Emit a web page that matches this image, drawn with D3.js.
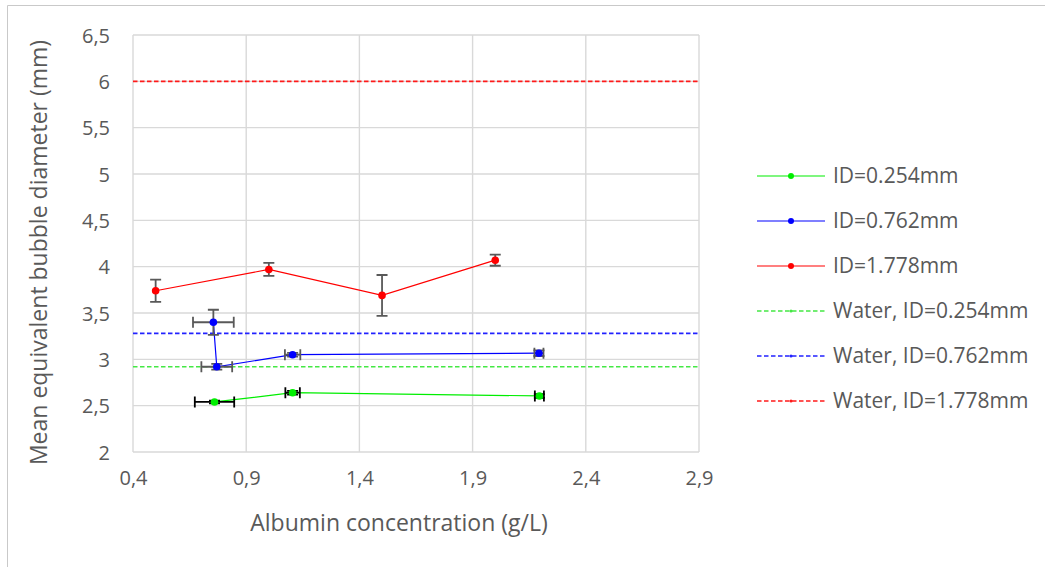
<!DOCTYPE html>
<html>
<head>
<meta charset="utf-8">
<script src="https://cdn.jsdelivr.net/npm/d3@7"></script>
<style>
  body { margin: 0; background: #fff; }
  #bubble-chart text { font-family: "Open Sans", sans-serif; fill: #595959; }
</style>
</head>
<body>
<div id="bubble-chart"></div>
<script>
// Mean bubble diameter vs albumin concentration

// x positions (g/L), y values (mm) and error half-widths per series
var greenX = [0.76, 1.105, 2.195];
var greenY = [2.54, 2.64, 2.605];
var greenXErr = [0.087, 0.032, 0.02];
var greenYErr = [0.015, 0.02, 0.02];

var blueX = [0.755, 0.77, 1.105, 2.193];
var blueY = [3.40, 2.92, 3.05, 3.066];
var blueXErr = [0.09, 0.068, 0.034, 0.02];
var blueYErr = [0.135, 0.03, 0.02, 0.03];

var redX = [0.5, 1.0, 1.5, 2.0];
var redY = [3.74, 3.97, 3.69, 4.07];
var redXErr = [0, 0, 0, 0];
var redYErr = [0.12, 0.07, 0.22, 0.06];

// water reference values (mm)
var waterLabels = ["Water, ID=0.254mm", "Water, ID=0.762mm", "Water, ID=1.778mm"];
var waterValues = [2.92, 3.28, 6.0];

var seriesLabels = ["ID=0.254mm", "ID=0.762mm", "ID=1.778mm"];
var xTicks = [0.4, 0.9, 1.4, 1.9, 2.4, 2.9];
var yTicks = [2, 2.5, 3, 3.5, 4, 4.5, 5, 5.5, 6, 6.5];

(function () {
  var draw_chart = function () {
    const colors = ["#00ee00", "#0000ff", "#ff0000"];
    const dashColors = ["#44e844", "#2222ff", "#ff1a1a"];
    const errColors = ["#000000", "#595959", "#595959"];

    function zip(xs, ys, xe, ye) {
      return xs.map((x, i) => ({ x: x, y: ys[i], xe: xe[i], ye: ye[i] }));
    }
    const series = [
      zip(greenX, greenY, greenXErr, greenYErr),
      zip(blueX, blueY, blueXErr, blueYErr),
      zip(redX, redY, redXErr, redYErr)
    ];

    const W = 1045, H = 567;
    const margin = { top: 35, left: 133 },
      width = 566,
      height = 417;

    const root = d3.select("#bubble-chart")
      .append("svg")
      .attr("width", W)
      .attr("height", H);

    // outer chart frame
    root.append("path")
      .attr("d", "M7.5," + (H + 5) + "V5.5H" + (W + 5))
      .attr("fill", "none")
      .attr("stroke", "#c9c9c9");

    const svg = root.append("g")
      .attr("transform", "translate(" + margin.left + "," + margin.top + ")");

    const xScale = d3.scaleLinear().domain([0.4, 2.9]).range([0, width]);
    const yScale = d3.scaleLinear().domain([2, 6.5]).range([height, 0]);
    const fmt = d => d3.format(".1~f")(d).replace(".", ",");

    // gridlines
    svg.append("g").selectAll("line.h")
      .data(yTicks)
      .enter().append("line")
      .attr("x1", 0).attr("x2", width)
      .attr("y1", d => yScale(d)).attr("y2", d => yScale(d))
      .attr("stroke", "#d9d9d9").attr("stroke-width", 1.4);
    svg.append("g").selectAll("line.v")
      .data(xTicks)
      .enter().append("line")
      .attr("x1", d => xScale(d)).attr("x2", d => xScale(d))
      .attr("y1", 0).attr("y2", height)
      .attr("stroke", "#d9d9d9").attr("stroke-width", 1.4);

    // axes (labels only)
    const yAxis = d3.axisLeft(yScale).tickValues(yTicks).tickFormat(fmt).tickSize(0).tickPadding(23);
    const xAxis = d3.axisBottom(xScale).tickValues(xTicks).tickFormat(fmt).tickSize(0).tickPadding(19);
    svg.append("g").call(yAxis).call(g => g.select(".domain").remove())
      .selectAll("text").attr("font-size", "20px").attr("dy", "0.35em");
    svg.append("g").attr("transform", "translate(0," + height + ")").call(xAxis)
      .call(g => g.select(".domain").remove())
      .selectAll("text").attr("font-size", "20px");

    svg.append("text")
      .attr("x", width / 2 - 17)
      .attr("y", height + 79)
      .attr("text-anchor", "middle")
      .attr("font-size", "23px")
      .text("Albumin concentration (g/L)");

    svg.append("text")
      .attr("transform", "rotate(-90)")
      .attr("x", -(height / 2) - 9)
      .attr("y", -86)
      .attr("text-anchor", "middle")
      .attr("font-size", "23px")
      .text("Mean equivalent bubble diameter (mm)");

    // water reference lines
    svg.append("g").selectAll("line.water")
      .data(waterValues)
      .enter().append("line")
      .attr("x1", 0).attr("x2", width)
      .attr("y1", d => yScale(d)).attr("y2", d => yScale(d))
      .attr("stroke", (d, i) => dashColors[i])
      .attr("stroke-width", 1.6)
      .attr("stroke-dasharray", "4.5,2.5");

    const line = d3.line().x(d => xScale(d.x)).y(d => yScale(d.y));

    series.forEach(function (data, i) {
      svg.append("path")
        .datum(data)
        .attr("d", line)
        .attr("fill", "none")
        .attr("stroke", colors[i])
        .attr("stroke-width", 1.2);

      const eb = svg.append("g")
        .attr("stroke", errColors[i])
        .attr("stroke-width", 1.8)
        .attr("fill", "none");
      const cap = 5.5;
      data.forEach(function (d) {
        const cx = xScale(d.x), cy = yScale(d.y);
        if (d.ye > 0) {
          const y0 = yScale(d.y - d.ye), y1 = yScale(d.y + d.ye);
          eb.append("path").attr("d",
            "M" + cx + "," + y0 + "V" + y1 +
            "M" + (cx - cap) + "," + y0 + "H" + (cx + cap) +
            "M" + (cx - cap) + "," + y1 + "H" + (cx + cap));
        }
        if (d.xe > 0) {
          const x0 = xScale(d.x - d.xe), x1 = xScale(d.x + d.xe);
          eb.append("path").attr("d",
            "M" + x0 + "," + cy + "H" + x1 +
            "M" + x0 + "," + (cy - cap) + "V" + (cy + cap) +
            "M" + x1 + "," + (cy - cap) + "V" + (cy + cap));
        }
      });

      svg.append("g").selectAll("circle")
        .data(data)
        .enter().append("circle")
        .attr("cx", d => xScale(d.x))
        .attr("cy", d => yScale(d.y))
        .attr("r", 3.8)
        .attr("fill", colors[i]);
    });

    // legend
    const legendItems = seriesLabels.map((t, i) => ({ text: t, color: colors[i], dashed: false }))
      .concat(waterLabels.map((t, i) => ({ text: t, color: dashColors[i], dashed: true })));

    const legend = root.append("g").attr("transform", "translate(757,176)");
    const item = legend.selectAll("g.item")
      .data(legendItems)
      .enter().append("g")
      .attr("transform", (d, i) => "translate(0," + (i * 45) + ")");
    item.append("line")
      .attr("x1", 0).attr("x2", 68)
      .attr("stroke", d => d.color)
      .attr("stroke-width", d => d.dashed ? 1.4 : 1.2)
      .attr("stroke-dasharray", d => d.dashed ? "4.5,2.5" : null);
    item.append("circle")
      .attr("cx", 34)
      .attr("r", d => d.dashed ? 1.5 : 3)
      .attr("fill", d => d.color);
    item.append("text")
      .attr("x", 76)
      .attr("dy", "0.35em")
      .attr("font-size", "21px")
      .text(d => d.text);
  };

  document.addEventListener("DOMContentLoaded", function () {
    draw_chart();
  });
})();
</script>
</body>
</html>
